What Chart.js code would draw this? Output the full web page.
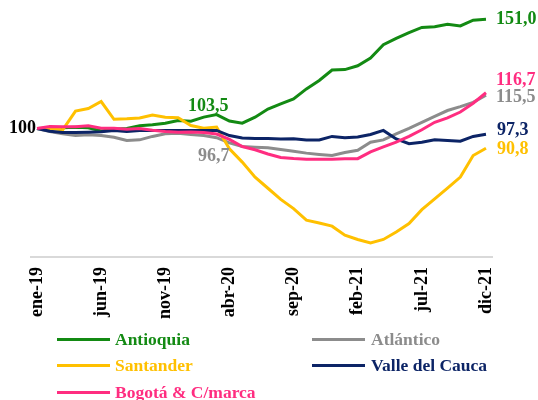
<!DOCTYPE html>
<html>
<head>
<meta charset="utf-8">
<script src="https://cdn.jsdelivr.net/npm/chart.js@4"></script>
<style>
  html, body { margin:0; padding:0; background:#fff; }
  #wrap { position:relative; width:538px; height:400px; overflow:hidden; }
  #c { position:absolute; left:0; top:0; }
  .lg { position:absolute; display:flex; align-items:center; height:24px; transform:translateY(-12px);
        font-family:'Liberation Serif', serif; font-weight:bold; font-size:17.5px; white-space:nowrap; }
  .lg .sw { display:inline-block; width:53px; height:3px; margin-right:5px; }
</style>
</head>
<body>
<div id="wrap">
  <canvas id="c" width="538" height="400"></canvas>
</div>
<script>
// ---- data ----
const months = ['ene-19','feb-19','mar-19','abr-19','may-19','jun-19','jul-19','ago-19','sep-19','oct-19','nov-19','dic-19',
                'ene-20','feb-20','mar-20','abr-20','may-20','jun-20','jul-20','ago-20','sep-20','oct-20','nov-20','dic-20',
                'ene-21','feb-21','mar-21','abr-21','may-21','jun-21','jul-21','ago-21','sep-21','oct-21','nov-21','dic-21'];
const seriesNames = ['Antioquia','Atlántico','Santander','Valle del Cauca','Bogotá & C/marca'];
const antioquia = [100,100.1,100.3,100.6,100.3,98.8,99.7,100,101.3,101.7,102.5,103.7,103.4,105.3,106.5,103.5,102.5,105.3,109.1,111.5,113.8,118.5,122.4,127.3,127.5,129.3,132.9,139.1,142.1,144.8,147.2,147.5,148.7,147.9,150.6,151.0];
const atlantico = [100,98.6,97.5,96.7,97.1,96.7,95.9,94.4,94.7,96.3,97.5,97.8,97.2,96.7,95.7,93.3,91.6,91.3,91.0,90.2,89.4,88.5,87.9,87.4,88.8,89.8,93.6,94.7,97.5,100.1,102.9,105.7,108.4,110.2,112.2,115.5];
const santander = [100,100.1,99.4,108.1,109.3,112.6,104.3,104.5,104.9,106.3,105.3,105.0,101.4,100.1,100.7,90.5,84.3,77.3,72.1,66.9,62.6,57.2,55.9,54.4,50.2,48.2,46.6,48.2,51.7,55.6,62.1,67.1,72.2,77.3,87.4,90.8];
const valle = [100,98.7,98.1,98.1,98.3,98.5,99.1,98.6,99.1,99.1,99.1,99.1,99.1,99.1,99.1,96.7,95.6,95.3,95.3,95.1,95.2,94.6,94.6,96.3,95.7,96.0,97.2,99.1,95.1,92.9,93.6,94.7,94.4,94.1,96.3,97.3];
const bogota = [100,100.9,100.8,100.8,101.3,100.1,100.1,99.7,100,99.2,98.6,98.3,98.4,98.1,97.4,94.9,91.6,90.1,88.1,86.5,86.0,85.7,85.6,85.7,85.9,85.9,89.1,91.4,93.6,96.3,99.4,102.9,105.0,107.7,111.8,116.7];
const valueLabels = ['100','103,5','96,7','151,0','115,5','90,8','97,3','116,7'];

// ---- styles ----
const colors = ['#138a13','#8c8c8c','#ffc000','#0c2466','#ff2d80'];
const seriesData = [antioquia, atlantico, santander, valle, bogota];
const drawOrder = [4,3,2,1,0];

const datasets = seriesData.map((d,i) => ({
  label: seriesNames[i], data: d, borderColor: colors[i], backgroundColor: colors[i],
  borderWidth: 3, pointRadius: 0, tension: 0, fill: false, order: drawOrder[i]
}));

// annotation placement: [labelIdx, datasetIdx, pointIdx, align, dx, dy, color]
const annots = [
  [0, 0, 0, 'right', -1, 0, '#000'],
  [1, 0, 15, 'right', -1, -15, colors[0]],
  [2, 1, 15, 'right', 0, 13, colors[1]],
  [3, 0, 35, 'left', 10, 0, colors[0]],
  [4, 1, 35, 'left', 10, 2.5, colors[1]],
  [5, 2, 35, 'left', 11, 1.5, colors[2]],
  [6, 3, 35, 'left', 11, -4, colors[3]],
  [7, 4, 35, 'left', 10, -12, colors[4]]
];

const labelPlugin = {
  id: 'valueLabels',
  afterDatasetsDraw(chart) {
    const ctx = chart.ctx;
    ctx.save();
    ctx.font = 'bold 18px "Liberation Serif"';
    ctx.textBaseline = 'middle';
    annots.forEach(a => {
      const pt = chart.getDatasetMeta(a[1]).data[a[2]];
      ctx.fillStyle = a[6];
      ctx.textAlign = a[3];
      ctx.fillText(valueLabels[a[0]], pt.x + a[4], pt.y + a[5]);
    });
    ctx.restore();
  }
};

new Chart(document.getElementById('c'), {
  type: 'line',
  data: { labels: months, datasets },
  plugins: [labelPlugin],
  options: {
    responsive: false, animation: false, devicePixelRatio: 1,
    layout: { padding: { left: 30.6, right: 45.6, top: 0, bottom: 0 } },
    plugins: { legend: { display: false }, tooltip: { enabled: false } },
    scales: {
      x: {
        offset: true,
        grid: { display: false, drawTicks: false },
        border: { display: true, color: '#d9d9d9', width: 2 },
        ticks: {
          autoSkip: false, minRotation: 90, maxRotation: 90, padding: 10, color: '#000',
          font: { family: 'Liberation Serif', weight: 'bold', size: 18 },
          callback: (v, i) => (i % 5 === 0 ? months[i] : '')
        },
        afterFit: s => { s.height = 143; }
      },
      y: { display: false, min: 40, max: 160 }
    }
  }
});

// ---- legend (HTML) ----
const legendPos = [[57,339],[312,339],[57,365.7],[312,365.7],[57,392.3]];
const legendGap = [5,6,5,6,5];
const wrap = document.getElementById('wrap');
[0,1,2,3,4].forEach((si, k) => {
  const el = document.createElement('div');
  el.className = 'lg';
  el.style.left = legendPos[k][0] + 'px';
  el.style.top = legendPos[k][1] + 'px';
  el.style.color = colors[si];
  const sw = document.createElement('span');
  sw.className = 'sw';
  sw.style.background = colors[si];
  sw.style.marginRight = legendGap[k] + 'px';
  el.appendChild(sw);
  el.appendChild(document.createTextNode(seriesNames[si]));
  wrap.appendChild(el);
});
</script>
</body>
</html>
